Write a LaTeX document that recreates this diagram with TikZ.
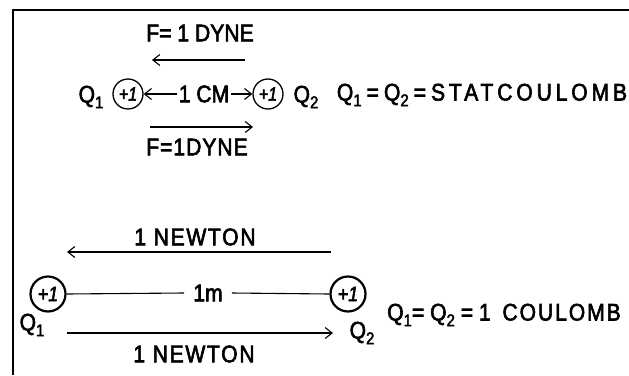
\documentclass[tikz,border=0pt]{standalone}
\usepackage{fontspec}
\setmainfont{Liberation Sans}
\newfontfamily\lett{Liberation Sans}[FakeStretch=0.88,FakeBold=2.5]
\newfontfamily\lettd{Liberation Sans}[FakeStretch=0.88,FakeBold=2.5,LetterSpace=4]
\newfontfamily\lettw{Liberation Sans}[FakeStretch=0.88,FakeBold=2.5,LetterSpace=7]
\newfontfamily\letts{Liberation Sans}[FakeStretch=0.88,FakeBold=2.5,LetterSpace=16]
\newfontfamily\lettc{Liberation Sans}[FakeStretch=0.88,FakeBold=2.5,LetterSpace=8]
\newfontfamily\lettit{Liberation Sans Italic}[FakeStretch=0.85,FakeBold=2.5]
\usetikzlibrary{arrows.meta}
\newcommand\sbs[1]{\raisebox{-0.45ex}{\fontsize{17}{17}\selectfont #1}}
\newcommand\tsp{\hspace*{5pt}}
\begin{document}
\begin{tikzpicture}[x=1pt,y=-1pt,
  lbl/.style={inner sep=0pt, font=\fontsize{24}{24}\lett},
  wide/.style={inner sep=0pt, font=\fontsize{24}{24}\lettw},
  chg/.style={circle, draw, line width=1.3pt, minimum size=30pt, inner sep=0pt, font=\fontsize{19}{19}\lettit},
  chgb/.style={chg, line width=2.2pt, minimum size=35pt, font=\fontsize{21}{21}\lettit},
  farrow/.style={line width=1.1pt, -{Straight Barb[length=7pt,width=11pt]}},
  rule/.style={line width=1.1pt}]
\useasboundingbox (0,0) rectangle (629,375);
% frame
\draw[line width=1.8pt] (629,10) -- (13,10) -- (13,375);
% ---- top: CGS ----
\node[lbl] (f1) at (200,33) {F= 1 DYNE};
\coordinate (t1s) at (245,60);
\coordinate (t1e) at (152,60);
\draw[farrow] (t1s) -- (t1e);
\node[lbl] (q1a) at (91,97) {Q\sbs{1}};
\node[chg] (c1) at (128,94) {+1};
\node[lbl, inner xsep=2pt] (cm) at (204,94) {1 CM};
\node[chg] (c2) at (268,94) {+1};
\node[lbl] (q2a) at (306,97) {Q\sbs{2}};
\draw[farrow] (cm.west) -- (c1.east);
\draw[farrow] (cm.east) -- (c2.west);
\node[lbl] (eqa) at (482,95) {Q\sbs{1}\tsp=\tsp Q\sbs{2}\tsp=\tsp{\letts STATCOULOMB}};
\coordinate (b1s) at (150,127);
\coordinate (b1e) at (253,127);
\draw[farrow] (b1s) -- (b1e);
\node[inner sep=0pt, font=\fontsize{24}{24}\lettd] (f2) at (197,147) {F=1DYNE};
% ---- bottom: MKS ----
\node[wide] (n1) at (195,237) {1 NEWTON};
\coordinate (t2s) at (331,252);
\coordinate (t2e) at (67,252);
\draw[farrow] (t2s) -- (t2e);
\node[chgb] (C1) at (48,294) {+1};
\node[chgb] (C2) at (348,294) {+1};
\node[lbl, inner xsep=9pt] (m) at (208,293) {1m};
\draw[rule] (C1.east) -- (m.west);
\draw[rule] (m.east) -- (C2.west);
\node[lbl] (q1b) at (32,325) {Q\sbs{1}};
\node[lbl] (q2b) at (362,333) {Q\sbs{2}};
\coordinate (b2s) at (67,333);
\coordinate (b2e) at (333,333);
\draw[farrow] (b2s) -- (b2e);
\node[wide] (n2) at (194,354) {1 NEWTON};
\node[lbl] (eqb) at (504,315) {Q\sbs{1}= Q\sbs{2} = 1 \ {\lettc COULOMB}};
\end{tikzpicture}
\end{document}
